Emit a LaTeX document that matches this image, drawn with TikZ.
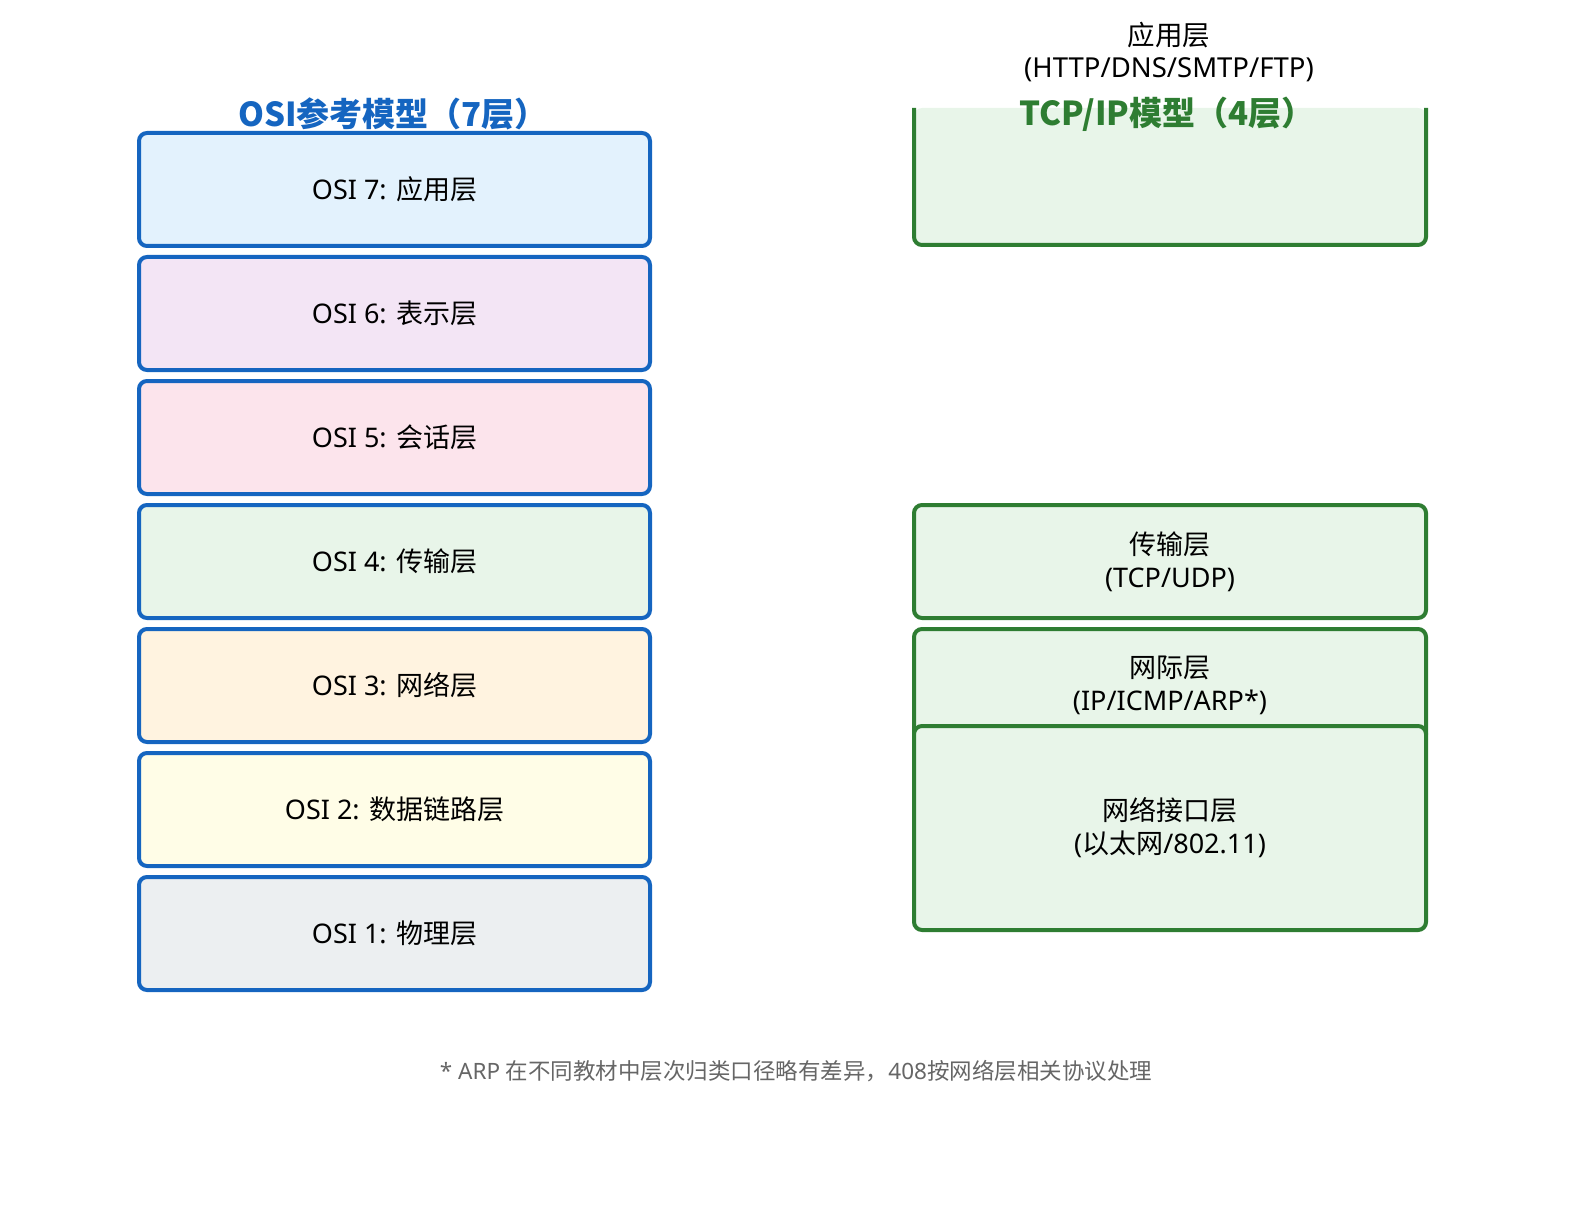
\documentclass[tikz,border=0pt]{standalone}
\usepackage{fontspec}
\setmainfont{Noto Sans}
\newfontfamily\cjkfont{Noto Sans CJK SC}
\newcommand\zhtxt[1]{{\cjkfont #1}}
\definecolor{osiblue}{HTML}{1565C0}
\definecolor{tcpgreen}{HTML}{2E7D32}
\definecolor{tcpfill}{HTML}{E8F5E9}
\definecolor{f7}{HTML}{E3F2FD}
\definecolor{f6}{HTML}{F3E5F5}
\definecolor{f5}{HTML}{FCE4EC}
\definecolor{f4}{HTML}{E8F5E9}
\definecolor{f3}{HTML}{FFF3E0}
\definecolor{f2}{HTML}{FFFDE7}
\definecolor{f1}{HTML}{ECEFF1}
\definecolor{notegray}{HTML}{666666}
\tikzset{
  osibox/.style={draw=osiblue, line width=4pt, rounded corners=8pt, minimum width=511pt, minimum height=113pt, inner sep=0pt, font=\fontsize{27pt}{33pt}\selectfont},
  tcpbox/.style={draw=tcpgreen, fill=tcpfill, line width=4pt, rounded corners=8pt, minimum width=512pt, inner sep=0pt, align=center, font=\fontsize{27pt}{33pt}\selectfont},
  titletext/.style={font=\cjkfont\fontsize{33pt}{36pt}\selectfont\bfseries, inner sep=0pt},
  plain/.style={font=\fontsize{27.5pt}{32pt}\selectfont, align=center, inner sep=0pt},
}
\begin{document}
\begin{tikzpicture}[x=1pt,y=-1pt]
\useasboundingbox (0,0) rectangle (1589,1206);
% OSI stack
\node[osibox, fill=f7] (o7) at (394.5,189.5) {OSI 7: \zhtxt{应用层}};
\node[osibox, fill=f6] (o6) at (394.5,313.5) {OSI 6: \zhtxt{表示层}};
\node[osibox, fill=f5] (o5) at (394.5,437.5) {OSI 5: \zhtxt{会话层}};
\node[osibox, fill=f4] (o4) at (394.5,561.5) {OSI 4: \zhtxt{传输层}};
\node[osibox, fill=f3] (o3) at (394.5,685.5) {OSI 3: \zhtxt{网络层}};
\node[osibox, fill=f2] (o2) at (394.5,809.5) {OSI 2: \zhtxt{数据链路层}};
\node[osibox, fill=f1] (o1) at (394.5,933.5) {OSI 1: \zhtxt{物理层}};
% TCP/IP application box (top edge hidden)
\fill[tcpfill, rounded corners=8pt] (914,108) -- (914,245) -- (1426,245) -- (1426,108) -- cycle;
\draw[tcpgreen, line width=4pt, rounded corners=8pt] (914,108) -- (914,245) -- (1426,245) -- (1426,108);
\node[plain] (app) at (1169,52) {\zhtxt{应用层}\\(HTTP/DNS/SMTP/FTP)};
% TCP/IP lower layers
\node[tcpbox, minimum height=113pt] (tr) at (1170,561.5) {\zhtxt{传输层}\\(TCP/UDP)};
\node[tcpbox, minimum height=113pt] (ip) at (1170,685.5) {\zhtxt{网际层}\\(IP/ICMP/ARP*)};
\node[tcpbox, minimum height=204pt] (ni) at (1170,828) {\zhtxt{网络接口层}\\(\zhtxt{以太网}/802.11)};
% Titles
\node[titletext, text=osiblue] (t1) at (393,114) {OSI参考模型（7层）};
\node[titletext, text=tcpgreen] (t2) at (1167,114) {TCP/IP模型（4层）};
% Footnote
\node[font=\fontsize{22.5pt}{26pt}\selectfont, text=notegray, inner sep=0pt] (note) at (796,1071) {* ARP \zhtxt{在不同教材中层次归类口径略有差异，}408\zhtxt{按网络层相关协议处理}};
\end{tikzpicture}
\end{document}
